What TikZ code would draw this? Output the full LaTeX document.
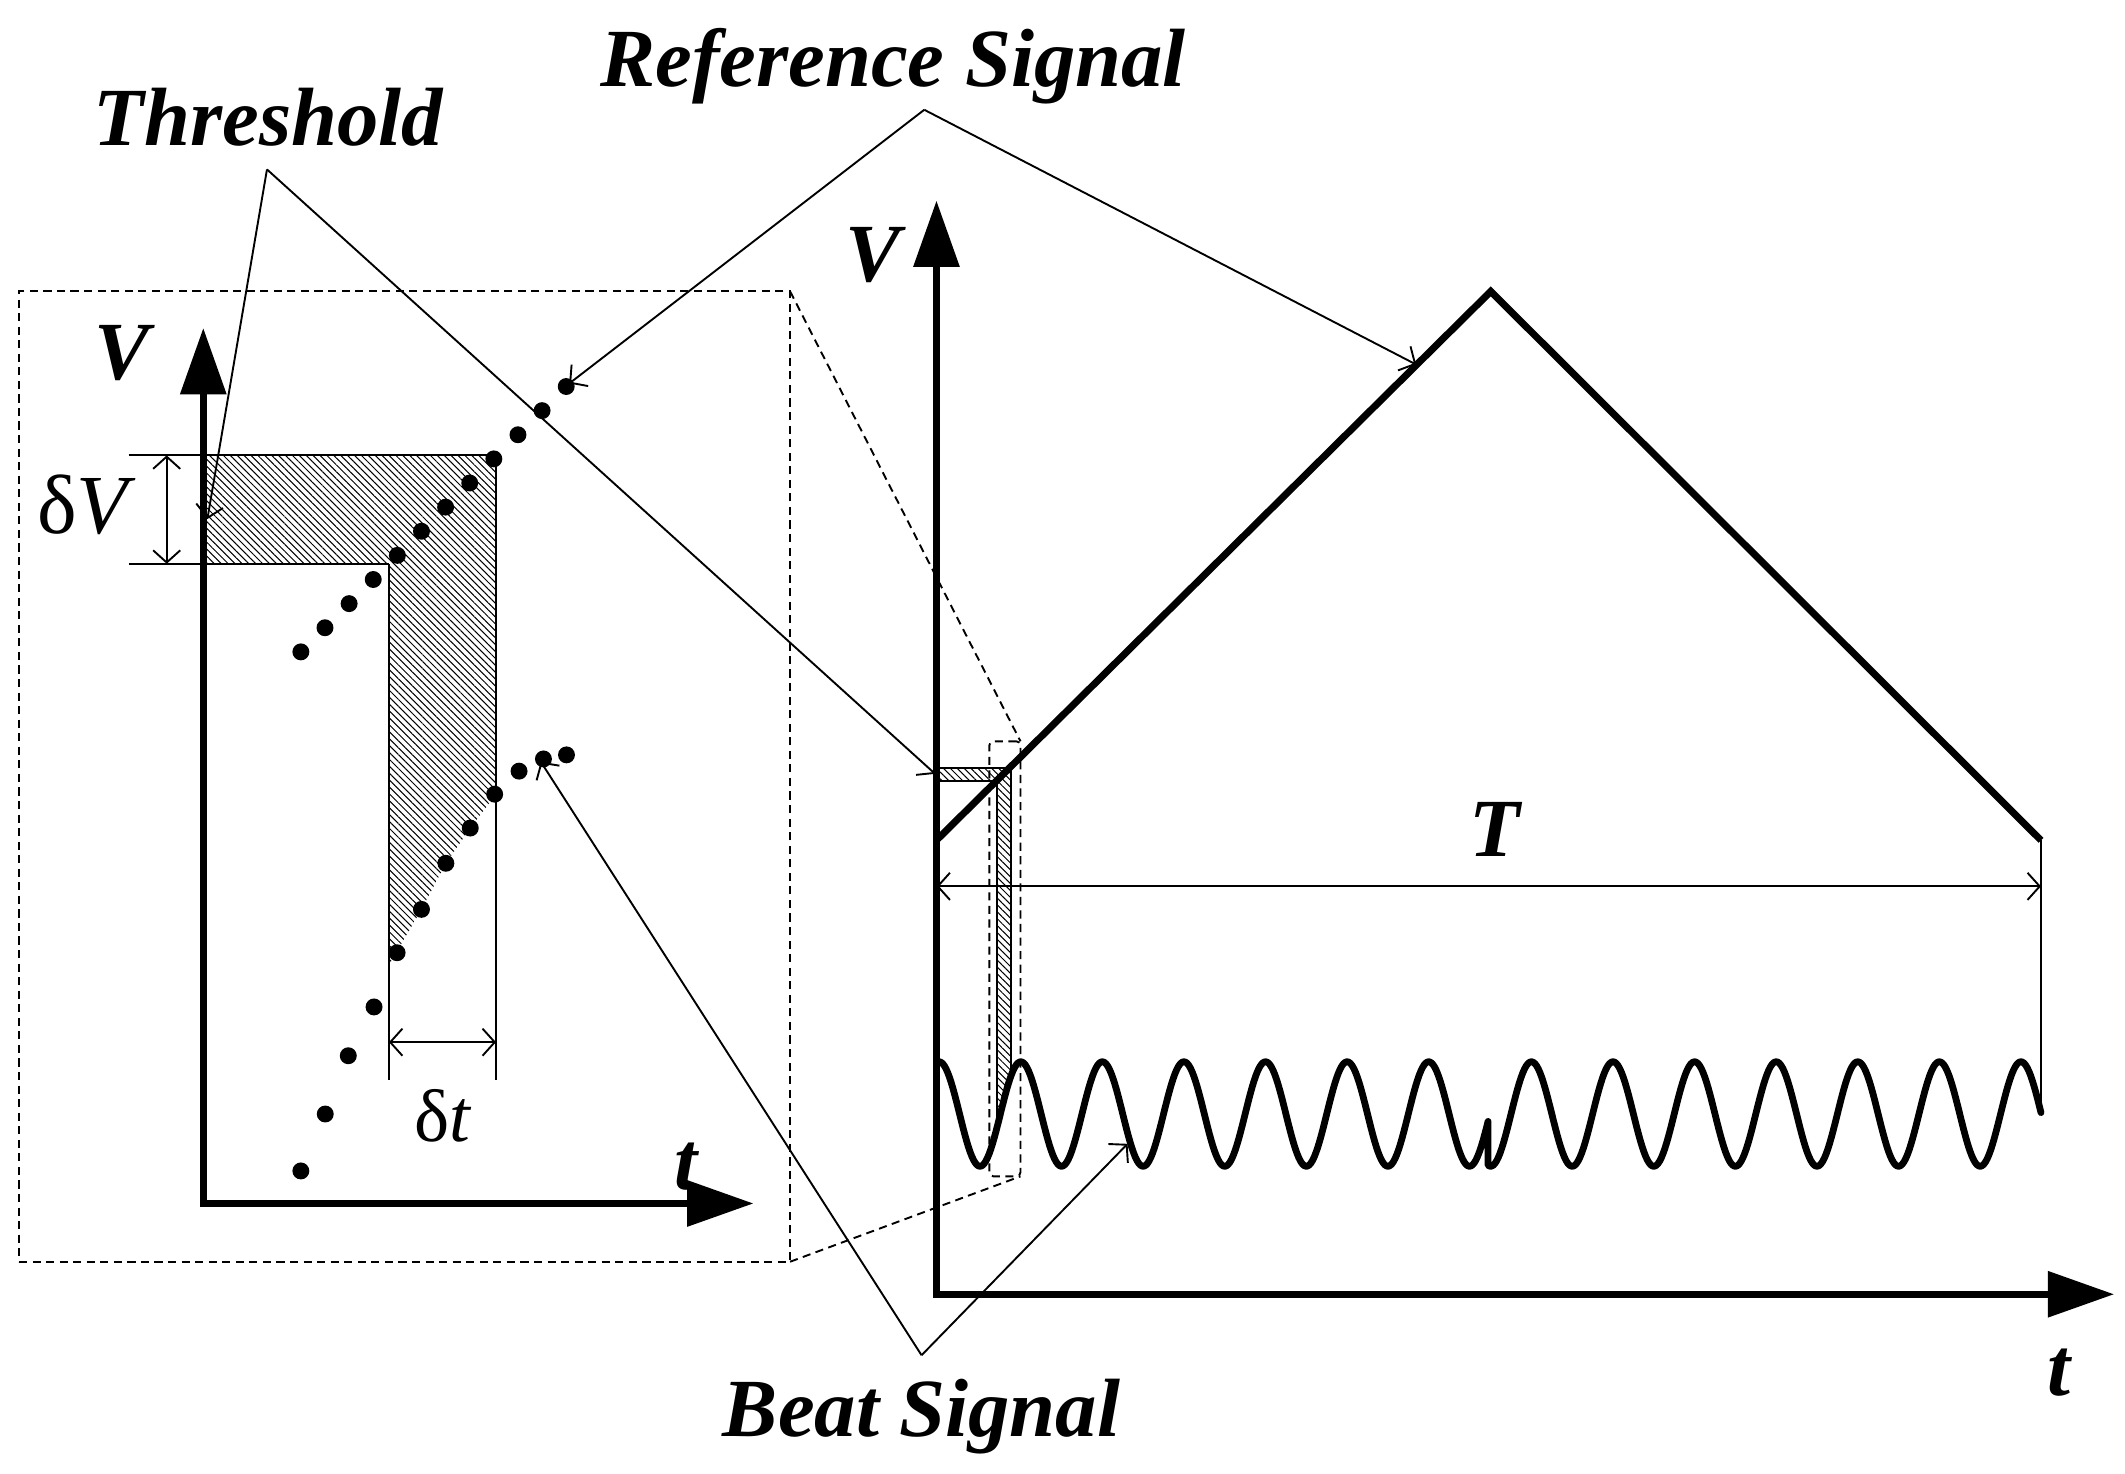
\documentclass[tikz,border=0pt]{standalone}
\usepackage{fontspec}
\setmainfont{Liberation Serif}
\usetikzlibrary{arrows.meta,patterns.meta}
\begin{document}
\begin{tikzpicture}[x=1pt,y=-1pt,
  thinline/.style={line width=1.4pt},
  axis/.style={line width=5.4pt,line join=miter,
    {Triangle[length=49pt,width=33pt]}-{Triangle[length=49pt,width=33pt]}},
  callout/.style={line width=1.4pt,-{Straight Barb[length=9pt,width=20pt,line width=1.4pt]}},
  dimline/.style={line width=1.4pt,{Straight Barb[length=9pt,width=20pt,line width=1.4pt]}-{Straight Barb[length=9pt,width=20pt,line width=1.4pt]}},
  lbl/.style={font=\fontsize{61}{70}\selectfont\bfseries\itshape,inner sep=0pt,anchor=base},
  sym/.style={font=\fontsize{62}{70}\selectfont,inner sep=0pt,anchor=base},
  hatch/.style={pattern={Lines[angle=-45,distance=3.6pt,line width=0.75pt]}},
  dotm/.style={circle,fill=black,inner sep=0pt,minimum size=12.5pt},
  zoombox/.style={draw,line width=1.4pt,dash pattern=on 6pt off 4pt,inner sep=0pt,outer sep=0pt,anchor=north west},
  dashlink/.style={line width=1.4pt,dash pattern=on 6pt off 4pt},
  wave/.style={line width=5pt,line join=round,line cap=round},
  ramp/.style={line width=5.2pt,line join=miter}
]
\useasboundingbox (0,0) rectangle (1568,1087.6);

% ---------- labels ----------
\node[lbl] (thrlab) at (198,107) {Threshold};
\node[lbl] (reflab) at (659,64) {Reference Signal};
\node[lbl] (beatlab) at (680,1060) {Beat Signal};
\node[lbl] (LV) at (90,280) {V};
\node[lbl] (Lt) at (506,878) {t};
\node[lbl] (RV) at (644,208) {V};
\node[lbl] (Rt) at (1519,1030) {t};
\node[lbl] (Tlab) at (1103,632) {T};
\node[sym] (dV) at (64,394) {δ\textit{V}};
\node[sym,font=\fontsize{55}{62}\selectfont] (dt) at (327,842) {δ\textit{t}};

% ---------- left (zoomed) plot ----------
\node[zoombox,minimum width=569pt,minimum height=716pt] (bigbox) at (14,215) {};

% hatched threshold region
\fill[hatch] (150,336) -- (366,336) -- (366,586) -- (347,611) -- (329,637)
  -- (311,671) -- (287,712) -- (287,416) -- (150,416) -- cycle;
\draw[thinline] (95,336) -- (366,336);
\draw[thinline] (95,416) -- (287,416);
\draw[thinline] (287,416) -- (287,797);
\draw[thinline] (366,336) -- (366,797);
\coordinate (dVa) at (123,336);
\coordinate (dVb) at (123,416);
\draw[dimline] (dVa) -- (dVb);
\coordinate (dta) at (287,769);
\coordinate (dtb) at (366,769);
\draw[dimline] (dta) -- (dtb);

% dots: reference (straight) and beat (curved)
\foreach \k in {0,...,11}
  \node[dotm] (u\k) at ({222+17.8*\k},{481-17.8*\k}) {};
\foreach \k/\xx/\yy in {0/222/864,1/240/822,2/257/779,3/276/743,4/293/703,5/311/671,
  6/329/637,7/347/611,8/365/586,9/383/569,10/401/560,11/418/557}
  \node[dotm] (b\k) at (\xx,\yy) {};

% axes
\coordinate (LO) at (150,888);
\coordinate (LVtip) at (150,242);
\coordinate (Lttip) at (556,888);
\draw[axis] (LVtip) -- (LO) -- (Lttip);

% ---------- right plot ----------
\coordinate (RO) at (691,955);
\coordinate (RVtip) at (691,148);
\coordinate (Rttip) at (1560,955);

% small hatched threshold region
\fill[hatch] (691,567) -- (746,567) -- (746,792) -- (735.5,832) -- (735.5,576) -- (691,576) -- cycle;
\draw[thinline] (691,567) -- (746,567) -- (746,792);
\draw[thinline] (691,576) -- (735.5,576) -- (735.5,832);

\node[zoombox,rounded corners=3pt,minimum width=23pt,minimum height=321pt] (smallbox) at (730,547) {};
\draw[dashlink] (bigbox.north east) -- (smallbox.north east);
\draw[dashlink] (bigbox.south east) -- (smallbox.south east);

% triangle (reference) signal
\coordinate (r0) at (691,620);
\coordinate (r1) at (1100,215);
\coordinate (r2) at (1506,620);
\draw[ramp] (r0) -- (r1) -- (r2);

% beat signal
\draw[wave] plot[variable=\t,domain=0:405,samples=320] ({693+\t},{822-38.6*cos(5.98*\t)})
  -- plot[variable=\t,domain=-32:376,samples=320] ({1130+\t},{822-38.6*cos(5.98*\t)});

% period T
\coordinate (Ta) at (691,654);
\coordinate (Tb) at (1506,654);
\coordinate (Tc) at (1506,823);
\draw[dimline] (Ta) -- (Tb);
\draw[thinline] (r2) -- (Tc);

% axes
\draw[axis] (RVtip) -- (RO) -- (Rttip);

% ---------- callouts ----------
\coordinate (thrA) at (197,125);
\coordinate (thrT1) at (153,383);
\coordinate (thrT2) at (690,571);
\draw[callout] (thrA) -- (thrT1);
\draw[callout] (thrA) -- (thrT2);

\coordinate (refA) at (682,81);
\coordinate (refT1) at (420,283);
\coordinate (refT2) at (1045,269);
\draw[callout] (refA) -- (refT1);
\draw[callout] (refA) -- (refT2);

\coordinate (beatA) at (680,1000);
\coordinate (beatT1) at (399,562);
\coordinate (beatT2) at (832,844);
\draw[callout] (beatA) -- (beatT1);
\draw[callout] (beatA) -- (beatT2);
\end{tikzpicture}
\end{document}
